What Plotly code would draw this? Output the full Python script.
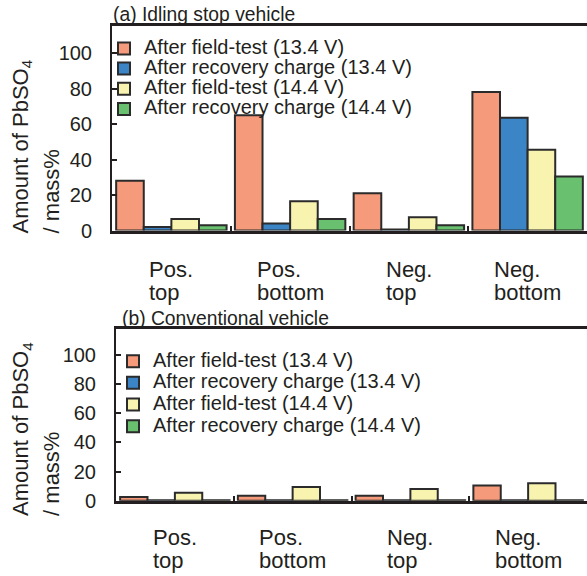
import plotly.graph_objects as go

# ---------------- data ----------------
categories = ["Pos. top", "Pos. bottom", "Neg. top", "Neg. bottom"]
cat_line1 = ["Pos.", "Pos.", "Neg.", "Neg."]
cat_line2 = ["top", "bottom", "top", "bottom"]

series_names = [
    "After field-test (13.4 V)",
    "After recovery charge (13.4 V)",
    "After field-test (14.4 V)",
    "After recovery charge (14.4 V)",
]
series_colors = ["#F59A7B", "#3B85C7", "#F8F4B0", "#69C170"]

# (a) Idling stop vehicle
idling_field_134 = [28, 65, 21, 78]
idling_recov_134 = [2, 4, 0.5, 63.5]
idling_field_144 = [6.5, 16.5, 7.5, 45.5]
idling_recov_144 = [3, 6.5, 3, 30.5]

# (b) Conventional vehicle
conv_field_134 = [2.5, 3.5, 3.5, 10.5]
conv_recov_134 = [0.3, 0.3, 0.3, 0.3]
conv_field_144 = [5.5, 9.5, 8, 12]
conv_recov_144 = [0.3, 0.3, 0.3, 0.3]

yticks = [0, 20, 40, 60, 80, 100]
title_a = "(a) Idling stop vehicle"
title_b = "(b) Conventional vehicle"
ytitle_line1 = "Amount of PbSO<sub>4</sub>"
ytitle_line2 = "/ mass%"

# ---------------- figure ----------------
W, H = 587, 576
FONT = "Liberation Sans, Arial, Helvetica, sans-serif"
INK = "#231f20"
OUTLINE = "#2b2b2b"

def px_x(p):
    return p / W

def px_y(p):
    return 1 - p / H

fig = go.Figure()

idling = [idling_field_134, idling_recov_134, idling_field_144, idling_recov_144]
conv = [conv_field_134, conv_recov_134, conv_field_144, conv_recov_144]

for name, color, vals in zip(series_names, series_colors, idling):
    fig.add_trace(go.Bar(
        x=categories, y=vals, name="<span style='font-size:20px'>%s</span>" % name,
        marker=dict(color=color, line=dict(color=OUTLINE, width=2)),
        xaxis="x", yaxis="y", legend="legend",
    ))
for name, color, vals in zip(series_names, series_colors, conv):
    fig.add_trace(go.Bar(
        x=categories, y=vals, name="<span style='font-size:20px'>%s</span>" % name,
        marker=dict(color=color, line=dict(color=OUTLINE, width=2)),
        xaxis="x2", yaxis="y2", legend="legend2",
    ))

common_x = dict(
    type="category", range=[-0.5, 3.5], showline=True, linewidth=2.5, linecolor=INK,
    mirror=True, ticks="inside", tickson="boundaries", ticklen=5, tickwidth=1.5,
    tickcolor=INK, showticklabels=False, showgrid=False, zeroline=False, fixedrange=True,
)
common_y = dict(
    showline=True, linewidth=2, linecolor=INK, ticks="inside", ticklen=5, tickwidth=2,
    tickcolor=INK, tickvals=yticks, showgrid=False, zeroline=False,
    tickfont=dict(size=20, color=INK, family=FONT), ticklabelstandoff=14,
)

fig.update_layout(
    width=W, height=H, margin=dict(l=0, r=0, t=0, b=0),
    paper_bgcolor="white", plot_bgcolor="white",
    font=dict(family=FONT, color=INK),
    barmode="group", bargap=0.07, bargroupgap=0,
    xaxis=dict(domain=[px_x(112), 1], anchor="y", **common_x),
    yaxis=dict(domain=[px_y(235), px_y(27)], range=[0, 115], anchor="x", **common_y),
    xaxis2=dict(domain=[px_x(116), 1], anchor="y2", **common_x),
    yaxis2=dict(domain=[px_y(510.5), px_y(335)], range=[0, 118], anchor="x2", **common_y),
    legend=dict(x=px_x(104), y=px_y(34), xanchor="left", yanchor="top",
                bgcolor="rgba(0,0,0,0)", font=dict(size=13.2, color=INK, family=FONT),
                traceorder="normal"),
    legend2=dict(x=px_x(113), y=px_y(352), xanchor="left", yanchor="top",
                 bgcolor="rgba(0,0,0,0)", font=dict(size=14.4, color=INK, family=FONT),
                 traceorder="normal"),
)

annotations = []
# panel titles
annotations.append(dict(text=title_a, xref="paper", yref="paper", x=px_x(111), y=px_y(15),
                        xanchor="left", yanchor="middle", showarrow=False,
                        font=dict(size=19.3, color=INK, family=FONT)))
annotations.append(dict(text=title_b, xref="paper", yref="paper", x=px_x(120), y=px_y(325),
                        xanchor="left", yanchor="middle", showarrow=False,
                        font=dict(size=19.3, color=INK, family=FONT)))

# y-axis titles
for ybottom in (240, 528):
    annotations.append(dict(
        text="<span style='font-size:22px'>%s<br>%s</span>" % (ytitle_line1, ytitle_line2),
        xref="paper", yref="paper", x=px_x(36), y=px_y(ybottom), xanchor="center",
        yanchor="bottom", textangle=-90, align="left", showarrow=False,
        font=dict(size=24, color=INK, family=FONT)))

# category labels
for xref, ytop in (("x", 260), ("x2", 533)):
    for cat, l1, l2 in zip(categories, cat_line1, cat_line2):
        annotations.append(dict(
            text="<span style='font-size:22px'>%s<br>%s</span>" % (l1, l2),
            xref=xref, yref="paper", x=cat, y=px_y(ytop), xanchor="center", yanchor="top",
            align="left", showarrow=False, font=dict(size=18, color=INK, family=FONT)))

fig.update_layout(annotations=annotations)

fig.write_html("out.html", config={"displayModeBar": False},
               post_script="document.body.style.margin='0';")
